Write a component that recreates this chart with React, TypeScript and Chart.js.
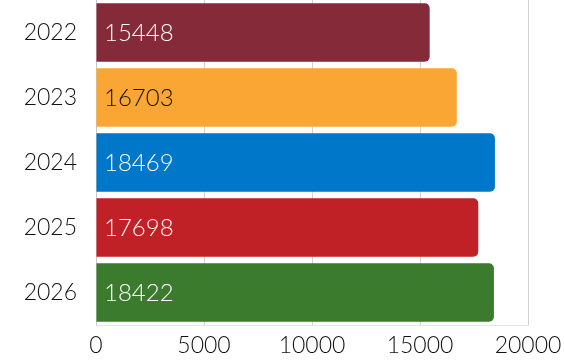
import React, { useEffect, useRef } from "react";
import { Chart, registerables } from "chart.js";

Chart.register(...registerables);

const categories = ["2022", "2023", "2024", "2025", "2026"];
const values = [15448, 16703, 18469, 17698, 18422];
const barColors = ["#852a38", "#f9a635", "#0077c8", "#c02126", "#3a7b2e"];
const labelColors = ["#ffffff", "#111111", "#ffffff", "#ffffff", "#ffffff"];
const xTicks = [0, 5000, 10000, 15000, 20000];

const FONT = "Lato, 'Open Sans', sans-serif";

const valueLabels = {
  id: "valueLabels",
  afterDatasetsDraw(chart: any) {
    const ctx = chart.ctx;
    const meta = chart.getDatasetMeta(0);
    ctx.save();
    ctx.font = `300 24px ${FONT}`;
    ctx.textAlign = "left";
    ctx.textBaseline = "middle";
    meta.data.forEach((bar: any, i: number) => {
      ctx.fillStyle = labelColors[i];
      ctx.fillText(String(values[i]), chart.chartArea.left + 8, bar.y + 1);
    });
    ctx.restore();
  },
};

export default function App() {
  const ref = useRef<HTMLCanvasElement>(null);
  useEffect(() => {
    if (!ref.current) return;
    const chart = new Chart(ref.current, {
      type: "bar",
      data: {
        labels: categories,
        datasets: [
          {
            data: values,
            backgroundColor: barColors,
            borderRadius: 5,
            borderSkipped: "start",
            categoryPercentage: 0.9,
            barPercentage: 1,
          },
        ],
      },
      options: {
        indexAxis: "y",
        animation: false,
        responsive: false,
        maintainAspectRatio: false,
        layout: { padding: { top: 0, right: 36, bottom: 0, left: 0 } },
        plugins: {
          legend: { display: false },
          tooltip: { enabled: false },
        },
        scales: {
          x: {
            min: 0,
            max: 20000,
            afterBuildTicks: (scale: any) => {
              scale.ticks = xTicks.map((v) => ({ value: v }));
            },
            afterFit: (scale: any) => {
              scale.height = 35;
              scale.paddingRight = 0;
              scale.paddingLeft = 0;
            },
            grid: { color: "#d2d2d2", drawTicks: false },
            border: { display: true, color: "#e4e4e4" },
            ticks: {
              padding: 7,
              color: "#111111",
              font: { family: FONT, size: 23, weight: 300 as any },
              maxRotation: 0,
              callback: (v: any) => String(v),
            },
          },
          y: {
            grid: { display: false, drawTicks: false },
            border: { display: true, color: "#c8c8c8" },
            afterFit: (scale: any) => {
              scale.width = 96;
              scale.paddingTop = 0;
              scale.paddingBottom = 0;
            },
            ticks: {
              padding: 19,
              color: "#111111",
              font: { family: FONT, size: 23, weight: 300 as any },
            },
          },
        },
      },
      plugins: [valueLabels],
    });
    return () => chart.destroy();
  }, []);
  return (
    <div style={{ position: "absolute", left: 0, top: 0, width: 564, height: 360 }}>
      <canvas ref={ref} width={564} height={360} style={{ width: 564, height: 360 }} />
    </div>
  );
}
